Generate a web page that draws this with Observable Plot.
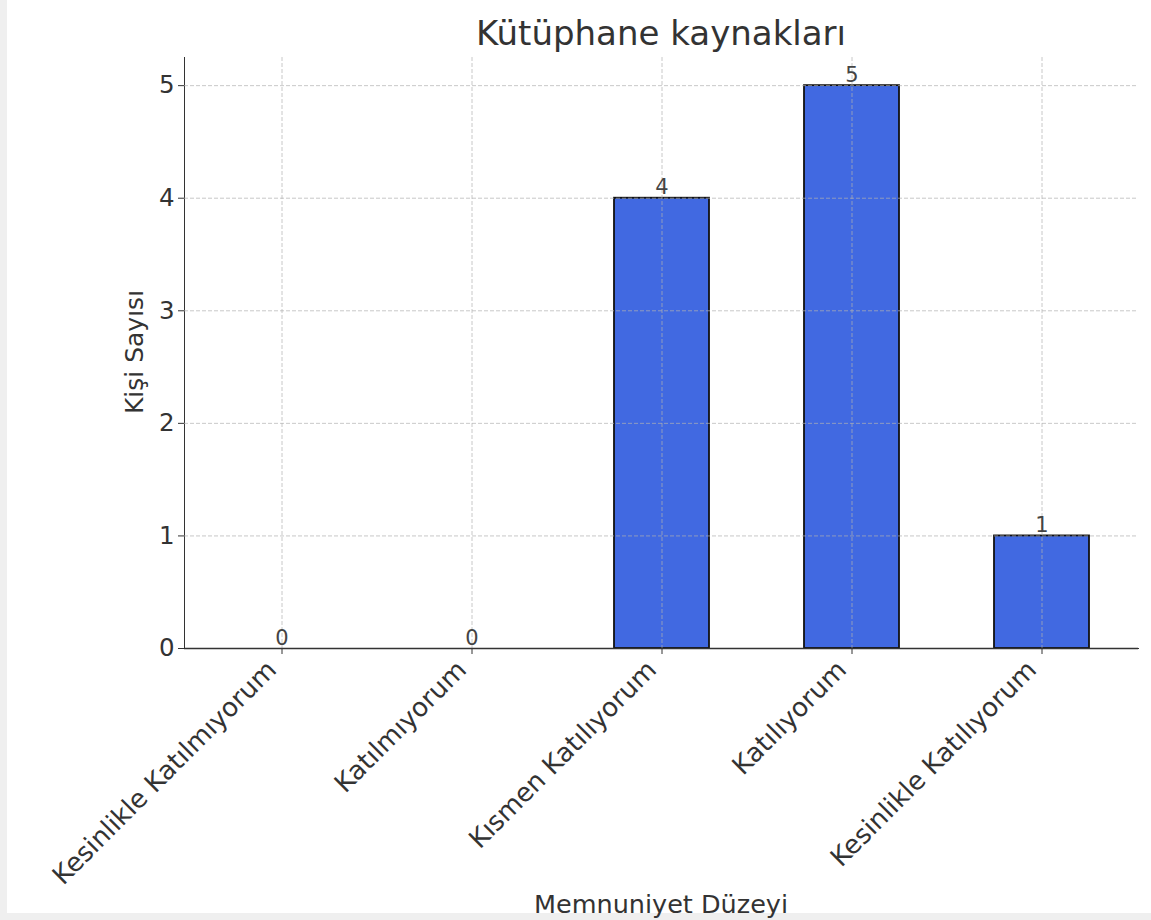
<!DOCTYPE html>
<html>
<head>
<meta charset="utf-8">
<script src="https://cdn.jsdelivr.net/npm/d3@7"></script>
<script src="https://cdn.jsdelivr.net/npm/@observablehq/plot@0.6"></script>
<style>
  html, body { margin: 0; padding: 0; background: #efefef; width: 1151px; height: 920px; overflow: hidden; }
  #wrap { position: absolute; left: 7px; top: 0; width: 1144px; height: 913px; background: #fff;
          font-family: "DejaVu Sans", sans-serif; color: #333; }
  #title { position: absolute; left: 354px; width: 600px; top: 13px; text-align: center; font-size: 34px; line-height: 40px; }
  #ylabel { position: absolute; left: 128px; top: 352px; transform: translate(-50%, -50%) rotate(-90deg);
            white-space: nowrap; font-size: 25px; line-height: 28px; }
  #xlabel { position: absolute; left: 304px; width: 700px; top: 890px; text-align: center; font-size: 25.5px; line-height: 28px; }
  #chart { position: absolute; left: 0; top: 45px; }
</style>
</head>
<body>
<div id="wrap">
  <div id="title">Kütüphane kaynakları</div>
  <div id="ylabel">Kişi Sayısı</div>
  <div id="chart"></div>
  <div id="xlabel">Memnuniyet Düzeyi</div>
</div>
<script>
const categories = ["Kesinlikle Katılmıyorum", "Katılmıyorum", "Kısmen Katılıyorum", "Katılıyorum", "Kesinlikle Katılıyorum"];
const counts = [0, 0, 4, 5, 1];
const yTicks = [0, 1, 2, 3, 4, 5];

const data = categories.map((c, i) => ({category: c, count: counts[i]}));

const plot = Plot.plot({
  width: 1144,
  height: 850,
  marginLeft: 177,
  marginRight: 13,
  marginTop: 12,
  marginBottom: 247,
  style: {fontFamily: "DejaVu Sans, sans-serif", color: "#333", background: "transparent", overflow: "visible"},
  x: {
    domain: categories,
    paddingInner: 0.5,
    paddingOuter: 0.25,
    label: null,
    tickRotate: -45,
    tickSize: 6,
    tickPadding: 4,
    line: true
  },
  y: {
    domain: [0, 5.25],
    ticks: yTicks,
    tickFormat: d => String(d),
    label: null,
    tickSize: 6,
    tickPadding: 4,
    line: true
  },
  marks: [
    Plot.barY(data, {x: "category", y: "count", fill: "#4169e1", stroke: "#111", strokeWidth: 1.8}),
    Plot.ruleY(yTicks.filter(t => t > 0), {stroke: "#b0b0b0", strokeOpacity: 0.7, strokeWidth: 1, strokeDasharray: "4,2"}),
    Plot.ruleX(categories, {stroke: "#b0b0b0", strokeOpacity: 0.7, strokeWidth: 1, strokeDasharray: "4,2"}),
    Plot.ruleY([0], {stroke: "#333", strokeWidth: 1.6}),
    Plot.text(data, {x: "category", y: "count", text: d => String(d.count), lineAnchor: "bottom", dy: -4,
                     fontSize: 21, fill: "#444", ariaLabel: "value labels"})
  ]
});
plot.querySelectorAll('[aria-label="x-axis tick label"]').forEach(g => {
  g.setAttribute("font-size", 26);
  g.querySelectorAll("text").forEach(t => t.setAttribute("font-size", 26));
  const t = g.getAttribute("transform") || "";
  g.setAttribute("transform", (t + " translate(-10,7)").trim());
});
plot.querySelectorAll('[aria-label="y-axis tick label"]').forEach(g => {
  g.setAttribute("font-size", 24.5);
  g.querySelectorAll("text").forEach(t => t.setAttribute("font-size", 24.5));
});
plot.querySelectorAll('[aria-label="value labels"]').forEach(g => {
  g.setAttribute("font-size", 21);
  g.querySelectorAll("text").forEach(t => t.setAttribute("font-size", 21));
});
document.getElementById("chart").appendChild(plot);
</script>
</body>
</html>
